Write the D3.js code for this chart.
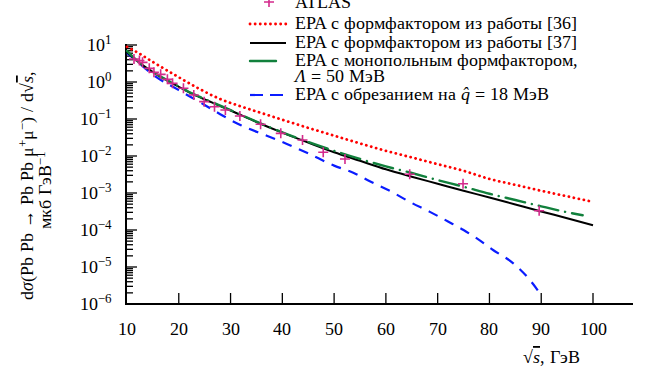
<!DOCTYPE html>
<html><head><meta charset="utf-8">
<script src="https://cdn.jsdelivr.net/npm/d3@7"></script>
<style>
  @font-face { font-family: "ChartSerif"; font-style: normal; src: local("Liberation Serif"), local("LiberationSerif"), local("LiberationSerif-Regular"), local("Times New Roman"); }
  @font-face { font-family: "ChartSerif"; font-style: italic; src: local("Liberation Serif Italic"), local("LiberationSerif-Italic"), local("Times New Roman Italic"); }
  svg text, svg tspan { font-family: "ChartSerif", "Liberation Serif", "Times New Roman", Times, monospace !important; }
</style>
</head>
<body style="margin:0">
<script>
// ATLAS data points (sqrt(s) in GeV, dσ/d√s in μb/GeV)
const atlasX = [11.35, 12.4, 13.0, 14.3, 15.2, 16.5, 17.8, 18.8, 20.9, 22.9, 24.9, 26.9, 29.0, 31.8, 35.8, 39.7, 43.9, 47.9, 52.1, 64.6, 74.9, 89.6];
const atlasY = [4.2, 3.8, 3.4, 2.34, 1.83, 1.61, 1.18, 0.92, 0.68, 0.446, 0.294, 0.215, 0.175, 0.12, 0.072, 0.041, 0.027, 0.0126, 0.0083, 0.0032, 0.00178, 3.3e-4];

// EPA with form factor from [36] (red dotted), log10 values
const redX = [10, 12, 15, 19, 23.5, 28, 32, 36, 40, 45, 50, 55, 60, 65, 70, 75, 80, 85, 90, 95, 100];
const redLog = [0.95, 0.80, 0.54, 0.21, -0.15, -0.46, -0.66, -0.84, -1.02, -1.24, -1.45, -1.66, -1.86, -2.04, -2.22, -2.40, -2.62, -2.78, -2.94, -3.09, -3.24];

// EPA with form factor from [37] (black solid)
const blackX = [10, 12, 14, 16, 18, 20, 22, 25, 28, 30, 35, 40, 45, 50, 55, 60, 65, 70, 75, 80, 85, 90, 95, 100];
const blackLog = [0.81, 0.56, 0.36, 0.18, 0.02, -0.13, -0.28, -0.47, -0.65, -0.77, -1.08, -1.37, -1.64, -1.90, -2.13, -2.36, -2.56, -2.75, -2.94, -3.12, -3.31, -3.50, -3.68, -3.87];

// EPA with monopole form factor, Λ = 50 MeV (green dash-dot)
const greenX = [10, 12, 14, 16, 18, 20, 22, 25, 28, 30, 35, 40, 45, 50, 55, 60, 65, 70, 75, 80, 85, 90, 95, 98];
const greenLog = [0.84, 0.57, 0.37, 0.19, 0.03, -0.12, -0.27, -0.46, -0.64, -0.76, -1.07, -1.36, -1.62, -1.86, -2.08, -2.28, -2.46, -2.65, -2.83, -3.02, -3.19, -3.36, -3.52, -3.60];

// EPA with cutoff at q = 18 MeV (blue dashed)
const blueX = [10, 12, 15, 20, 25, 28, 32, 37, 40, 45, 50, 53.7, 57, 61, 64.6, 68.5, 72, 75, 77.5, 80.7, 84.6, 87.8, 90];
const blueLog = [0.78, 0.55, 0.20, -0.22, -0.62, -0.87, -1.17, -1.45, -1.62, -1.93, -2.26, -2.45, -2.69, -2.96, -3.24, -3.51, -3.77, -4.00, -4.22, -4.54, -4.90, -5.35, -5.76];

const xTicks = [10, 20, 30, 40, 50, 60, 70, 80, 90, 100];
const yExps = [1, 0, -1, -2, -3, -4, -5, -6];

const fontList = '"ChartSerif", "Liberation Serif", "Times New Roman", Times, monospace';
const svg = d3.select('body').append('svg').attr('width', 647).attr('height', 376);

const txt = (sel, xx, yy) => sel.append('text')
  .attr('x', xx).attr('y', yy)
  .attr('font-size', 18)
  .attr('font-family', fontList)
  .style('font-family', fontList, 'important');

const x = d3.scaleLinear().domain([10, 100]).range([127, 593]);
const y = d3.scaleLog().domain([1e-6, 10]).range([304, 45]);

// legend texts
txt(svg, 295, 8).text('ATLAS');
txt(svg, 295, 29).text('EPA с формфактором из работы [36]');
txt(svg, 295, 48).text('EPA с формфактором из работы [37]');
txt(svg, 295, 66).text('EPA с монопольным формфактором,');
const lam = txt(svg, 295, 82);
lam.append('tspan').attr('font-style', 'italic').text('Λ');
lam.append('tspan').text(' = 50 МэВ');
const cut = txt(svg, 295, 100);
cut.append('tspan').text('EPA с обрезанием на ');
cut.append('tspan').attr('font-style', 'italic').text('q\u0302');
cut.append('tspan').text(' = 18 МэВ');

// tick labels
xTicks.forEach(v => {
  txt(svg, x(v), 335).attr('text-anchor', 'middle').text(v);
});
yExps.forEach(e => {
  const t = txt(svg, 112, y(Math.pow(10, e)) + 6).attr('text-anchor', 'end');
  t.append('tspan').text('10');
  t.append('tspan').attr('dy', -7).attr('font-size', 13)
    .text(e < 0 ? '\u2212' + Math.abs(e) : e);
});

// axis titles
const xt = txt(svg, 523, 363);
xt.append('tspan').text('\u221A');
xt.append('tspan').attr('font-style', 'italic').attr('text-decoration', 'overline').text('s');
xt.append('tspan').text(', ГэВ');

const yt = txt(svg, 0, 0)
  .attr('transform', 'translate(33,185) rotate(-90)')
  .attr('text-anchor', 'middle');
yt.append('tspan').text('d');
yt.append('tspan').attr('font-style', 'italic').text('σ');
yt.append('tspan').text('(Pb Pb \u2192 Pb Pb \u03BC');
yt.append('tspan').attr('dy', -6).attr('font-size', 13).text('+');
yt.append('tspan').attr('dy', 6).text('\u03BC');
yt.append('tspan').attr('dy', -6).attr('font-size', 13).text('\u2212');
yt.append('tspan').attr('dy', 6).text(') / d\u221A');
yt.append('tspan').attr('font-style', 'italic').attr('text-decoration', 'overline').text('s');
yt.append('tspan').text(',');

const yt2 = txt(svg, 0, 0)
  .attr('transform', 'translate(51,190) rotate(-90)')
  .attr('text-anchor', 'middle');
yt2.append('tspan').text('мкб ГэВ');
yt2.append('tspan').attr('dy', -6).attr('font-size', 13).text('\u22121');

// axes: y with minor ticks pointing inward, x with inward ticks
const yMinor = [];
yExps.slice(1).forEach(e => {
  for (let k = 1; k <= 9; k++) yMinor.push(k * Math.pow(10, e));
});
yMinor.push(10);
const ax = svg.append('g').attr('stroke', '#000');
ax.selectAll('line.ym')
  .data(yMinor)
  .enter().append('line')
    .attr('x1', 126)
    .attr('x2', d => (Math.abs(Math.log10(d) - Math.round(Math.log10(d))) < 1e-9 ? 137 : 133))
    .attr('y1', d => y(d)).attr('y2', d => y(d))
    .attr('stroke-width', 1.3);
ax.append('line')
  .attr('x1', 126).attr('x2', 126).attr('y1', 44).attr('y2', 305)
  .attr('stroke-width', 2);
ax.append('line')
  .attr('x1', 125).attr('x2', 633).attr('y1', 304).attr('y2', 304)
  .attr('stroke-width', 2);
ax.selectAll('line.xt')
  .data(xTicks.slice(1))
  .enter().append('line')
    .attr('x1', d => x(d)).attr('x2', d => x(d))
    .attr('y1', 304).attr('y2', 293)
    .attr('stroke-width', 1.3);

// curves
const line = d3.line()
  .x(d => x(d[0]))
  .y(d => y(Math.pow(10, d[1])))
  .curve(d3.curveMonotoneX);

const curves = [
  { xs: blueX, ys: blueLog, color: '#0a1cff', w: 2.2, dash: '10 8', cap: 'butt' },
  { xs: redX, ys: redLog, color: '#ff0000', w: 2.8, dash: '0.1 5', cap: 'round' },
  { xs: blackX, ys: blackLog, color: '#000000', w: 2, dash: null, cap: 'butt' },
  { xs: greenX, ys: greenLog, color: '#11803c', w: 2.4, dash: '20 7 0.1 7', cap: 'round' }
];

svg.append('g').selectAll('path')
  .data(curves)
  .enter().append('path')
    .attr('d', c => line(c.xs.map((v, i) => [v, c.ys[i]])))
    .attr('fill', 'none')
    .attr('stroke', c => c.color)
    .attr('stroke-width', c => c.w)
    .attr('stroke-dasharray', c => c.dash)
    .attr('stroke-linecap', c => c.cap);

// ATLAS markers
const pink = '#d42a8c';
svg.append('g').selectAll('path')
  .data(atlasX.map((v, i) => [v, atlasY[i]]))
  .enter().append('path')
    .attr('d', d => `M${x(d[0]) - 5},${y(d[1])}h10M${x(d[0])},${y(d[1]) - 5}v10`)
    .attr('stroke', pink)
    .attr('stroke-width', 1.6);

// legend samples
svg.append('path')
  .attr('d', 'M264,2h10M269,-3v10')
  .attr('stroke', pink).attr('stroke-width', 1.6);
const legendRows = [
  { yy: 24, color: '#ff0000', w: 2.8, dash: '0.1 5', cap: 'round', x2: 286 },
  { yy: 43, color: '#000000', w: 2, dash: null, cap: 'butt', x2: 286 },
  { yy: 61, color: '#11803c', w: 2.4, dash: '26 8 0.1 20', cap: 'round', x2: 284 },
  { yy: 95, color: '#0a1cff', w: 2.2, dash: '13 7', cap: 'butt', x2: 285 }
];
svg.append('g').selectAll('line')
  .data(legendRows)
  .enter().append('line')
    .attr('x1', 250).attr('x2', r => r.x2)
    .attr('y1', r => r.yy).attr('y2', r => r.yy)
    .attr('stroke', r => r.color).attr('stroke-width', r => r.w)
    .attr('stroke-dasharray', r => r.dash).attr('stroke-linecap', r => r.cap);
</script>
</body>
</html>
